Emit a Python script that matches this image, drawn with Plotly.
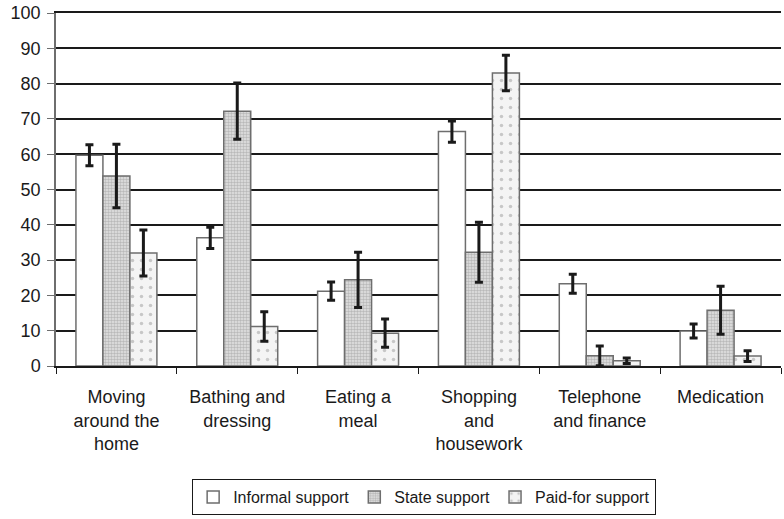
import plotly.graph_objects as go

categories = ["Moving<br>around the<br>home", "Bathing and<br>dressing", "Eating a<br>meal",
              "Shopping<br>and<br>housework", "Telephone<br>and finance", "Medication"]
informal = [59.7, 36.3, 21.2, 66.4, 23.3, 9.9]
informal_err = [3.0, 3.0, 2.6, 3.0, 2.7, 2.0]
state = [53.8, 72.2, 24.4, 32.2, 2.9, 15.8]
state_err = [9.0, 8.0, 7.8, 8.5, 2.8, 6.8]
paid = [32.0, 11.2, 9.3, 83.0, 1.5, 2.8]
paid_err = [6.5, 4.2, 4.0, 5.0, 0.8, 1.5]
series_names = ["Informal support", "State support", "Paid-for support"]

line_col = "#6e6e6e"
fig = go.Figure()

def add(name, vals, errs, pattern):
    fig.add_trace(go.Bar(
        name=name, x=categories, y=vals,
        marker=dict(color="white", line=dict(color=line_col, width=1.5), pattern=pattern),
        error_y=dict(type="data", array=errs, visible=True, color="#1a1a1a", thickness=3, width=4),
    ))

add(series_names[0], informal, informal_err, dict(shape=""))
add(series_names[1], state, state_err,
    dict(shape=".", size=3, solidity=0.55, fgcolor="#8e8e8e", bgcolor="#e4e4e4", fillmode="overlay"))
add(series_names[2], paid, paid_err,
    dict(shape=".", size=9, solidity=0.12, fgcolor="#9a9a9a", bgcolor="#f4f4f4", fillmode="overlay"))

font = dict(family="Liberation Sans, Arial, sans-serif", size=18, color="#1a1a1a")
fig.update_layout(
    width=784, height=519,
    margin=dict(l=56, r=3, t=13, b=153),
    plot_bgcolor="white", paper_bgcolor="white",
    barmode="group", bargap=0.33, bargroupgap=0,
    font=font,
    showlegend=True,
    legend=dict(orientation="h", x=0.541, xanchor="center", y=0.042, yanchor="middle",
                yref="container", xref="container",
                bordercolor="#1a1a1a", borderwidth=1, font=dict(size=16),
                itemwidth=30, tracegroupgap=0),
    xaxis=dict(tickson="boundaries", ticks="outside", ticklen=6, tickcolor="#1a1a1a",
               showline=True, linecolor="#1a1a1a", linewidth=1.5, showgrid=False,
               mirror=True, automargin=False, ticklabelstandoff=14, tickfont=dict(size=18)),
    yaxis=dict(range=[0, 100], dtick=10, ticks="outside", ticklen=7, tickcolor=line_col,
               showline=True, linecolor=line_col, linewidth=1.5,
               showgrid=True, gridcolor="#1a1a1a", gridwidth=1.5, zeroline=False,
               automargin=False, ticklabelstandoff=3, tickfont=dict(size=18)),
)
fig.write_html("out.html", config={"displayModeBar": False},
               post_script="document.body.style.margin='0';document.body.style.overflow='hidden';")
